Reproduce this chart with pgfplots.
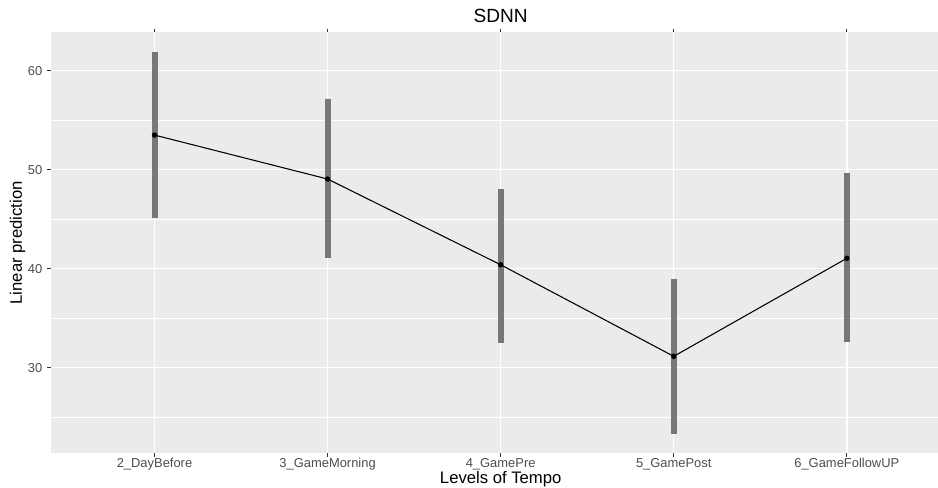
\documentclass[border=0pt]{standalone}
\usepackage{pgfplots}
\usepackage{pgfplotstable}
\pgfplotsset{compat=1.18}
\usepackage{fontspec}
\setmainfont{Liberation Sans}
\definecolor{panel}{HTML}{EBEBEB}
\definecolor{barc}{HTML}{777777}
\definecolor{tickc}{HTML}{4D4D4D}
\definecolor{tickm}{HTML}{333333}
\pgfplotstableread{
x y lo hi
0 53.5 45.1 61.9
1 49.06 41.05 57.1
2 40.4 32.53 48.1
3 31.15 23.3 38.96
4 41.05 32.56 49.64
}\sdnn
\begin{document}
\begin{tikzpicture}
\path[use as bounding box] (-38.0pt,-26.0pt) rectangle (665.5pt,340pt);
\begin{axis}[
  at={(0,0)}, anchor=south west,
  scale only axis, width=675pt, height=315.75pt,
  xmin=-0.6, xmax=4.6, ymin=21.35, ymax=63.88,
  axis background/.style={fill=panel},
  axis line style={draw=none},
  xtick={0,1,2,3,4},
  xticklabels={2\_DayBefore,3\_GameMorning,4\_GamePre,5\_GamePost,6\_GameFollowUP},
  ytick={30,40,50,60},
  minor ytick={25,35,45,55},
  grid=both,
  major grid style={white, line width=1.1pt},
  minor grid style={white, line width=0.55pt},
  tick align=outside,
  major tick length=2.75pt,
  minor tick length=0pt,
  tick style={tickm, line width=0.8pt},
  x tick label style={font=\fontsize{9.7}{11}\selectfont, text=tickc, anchor=base, yshift=-7.75pt},
  y tick label style={font=\fontsize{9.7}{11}\selectfont, text=tickc},
  /pgf/number format/assume math mode=true,
  title={SDNN},
  every axis title/.style={font=\fontsize{14.3}{16}\selectfont, at={(axis description cs:0.5,1)}, anchor=base, yshift=7pt},
  xlabel={Levels of Tempo},
  every axis x label/.style={font=\fontsize{12.5}{14}\selectfont, at={(axis description cs:0.5,0)}, anchor=base, yshift=-22.5pt},
  ylabel={Linear prediction},
  ylabel style={font=\fontsize{12.5}{14}\selectfont, at={(axis description cs:-0.0369,0.5)}, anchor=center},
  clip=false,
]
\addplot[draw=none, forget plot,
  error bars/.cd, y dir=both, y explicit,
  error mark=none,
  error bar style={barc, line width=4.5pt, line cap=butt}]
  table[x=x, y=y, y error plus expr=\thisrow{hi}-\thisrow{y}, y error minus expr=\thisrow{y}-\thisrow{lo}] {\sdnn};
\addplot[black, line width=0.8pt, mark=*, mark size=1.6pt] table[x=x, y=y] {\sdnn};
\end{axis}
\end{tikzpicture}
\end{document}
